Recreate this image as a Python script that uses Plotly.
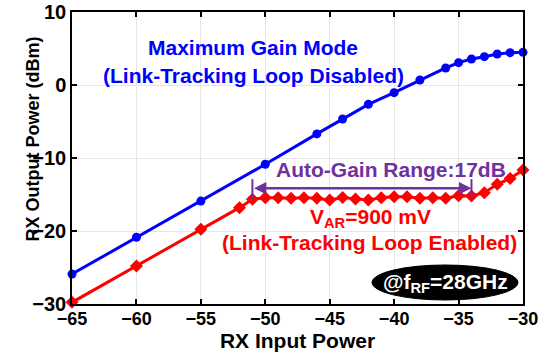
import plotly.graph_objects as go

# Data
blue_x = [-65, -60, -55, -50, -46, -44, -42, -40, -38, -36, -35, -34, -33, -32, -31, -30]
blue_y = [-25.9, -20.86, -15.9, -10.86, -6.7, -4.66, -2.65, -1.05, 0.68, 2.33, 3.06, 3.56, 3.88, 4.25, 4.43, 4.47]

red_x = [-65, -60, -55, -52, -51, -50, -49, -48, -47, -46, -45, -44, -43, -42, -41, -40,
         -39, -38, -37, -36, -35, -34, -33, -32, -31, -30]
red_y = [-29.77, -24.8, -19.77, -16.8, -15.66, -15.43, -15.43, -15.5, -15.43, -15.5, -15.75, -15.4,
         -15.6, -15.75, -15.43, -15.3, -15.3, -15.5, -15.43, -15.5, -15.16, -15.2, -14.75, -13.6,
         -12.8, -11.64]

x_ticks = [-65, -60, -55, -50, -45, -40, -35, -30]
y_ticks = [-30, -20, -10, 0, 10]

range_start, range_end, range_y = -51, -34, -14.15

FONT = "Liberation Sans, Arial, sans-serif"
PURPLE = "#7030A0"

fig = go.Figure()
fig.add_trace(go.Scatter(x=blue_x, y=blue_y, mode="lines+markers",
                         line=dict(color="#0000FF", width=3),
                         marker=dict(symbol="circle", size=9, color="#0000FF"),
                         cliponaxis=False, showlegend=False))
fig.add_trace(go.Scatter(x=red_x, y=red_y, mode="lines+markers",
                         line=dict(color="#FF0000", width=3),
                         marker=dict(symbol="diamond", size=10, color="#FF0000"),
                         cliponaxis=False, showlegend=False))

axis_common = dict(showline=True, linecolor="black", linewidth=1.5, mirror="ticks",
                   ticks="inside", ticklen=5, tickcolor="black", tickwidth=1.5,
                   showgrid=True, gridcolor="#E6E6E6", gridwidth=1, zeroline=False,
                   automargin=False, ticklabeloverflow="allow")

fig.update_xaxes(range=[-65, -30], tickvals=x_ticks, **axis_common,
                 tickfont=dict(family=FONT, size=18, color="black", weight="bold"),
                 ticklabelstandoff=-2,
                 title=dict(text="<b>RX Input Power</b>", font=dict(family=FONT, size=21, color="black"),
                            standoff=0))
fig.update_yaxes(range=[-30, 10], tickvals=y_ticks, **axis_common,
                 tickfont=dict(family=FONT, size=20, color="black", weight="bold"))

anns = []
def txt(x, y, text, color, size=21):
    anns.append(dict(x=x, y=y, xref="x", yref="y", text="<b>" + text + "</b>", showarrow=False,
                     font=dict(family=FONT, size=size, color=color)))

txt(-50.95, 5.07, "Maximum Gain Mode", "#0000FF")
txt(-50.95, 1.37, "(Link-Tracking Loop Disabled)", "#0000FF")
txt(-40.24, -11.64, "Auto-Gain Range:17dB", PURPLE)
txt(-41.87, -18.2, "V<sub>AR</sub>=900 mV", "#FF0000")
txt(-41.95, -21.6, "(Link-Tracking Loop Enabled)", "#FF0000")
txt(-36.05, -27.1, "@f<sub>RF</sub>=28GHz", "white")

# double arrow
anns.append(dict(x=range_end, y=range_y, ax=range_start, ay=range_y, xref="x", yref="y",
                 axref="x", ayref="y", showarrow=True, arrowhead=2, startarrowhead=2,
                 arrowside="end+start", arrowwidth=2.5, arrowcolor=PURPLE, arrowsize=1,
                 startarrowsize=1, text=""))
# y axis title
anns.append(dict(x=-0.112, y=0.565, xref="paper", yref="paper", textangle=-90,
                 text="<b>RX Output Power (dBm)</b>", showarrow=False,
                 font=dict(family=FONT, size=18, color="black")))

shapes = [
    dict(type="line", xref="x", yref="y", x0=range_start, x1=range_start, y0=-12.9, y1=-15.6,
         line=dict(color=PURPLE, width=2)),
    dict(type="line", xref="x", yref="y", x0=range_end, x1=range_end, y0=-12.9, y1=-15.6,
         line=dict(color=PURPLE, width=2)),
    dict(type="circle", xref="paper", yref="paper", x0=0.665, x1=0.989, y0=0.0137, y1=0.1336,
         fillcolor="black", line=dict(color="black", width=1), layer="above"),
]

fig.update_layout(width=538, height=362, margin=dict(l=72, r=15, t=12, b=58),
                  plot_bgcolor="white", paper_bgcolor="white",
                  annotations=anns, shapes=shapes, showlegend=False)

fig.write_html("out.html")
